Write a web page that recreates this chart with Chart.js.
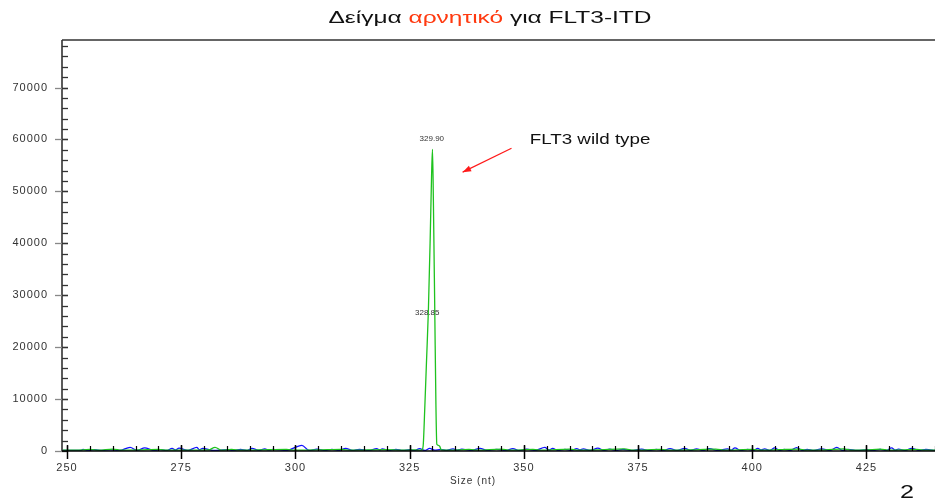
<!DOCTYPE html>
<html>
<head>
<meta charset="utf-8">
<script src="https://cdn.jsdelivr.net/npm/chart.js@4.4.1/dist/chart.umd.min.js"></script>
<style>
  html, body { margin: 0; padding: 0; background: #fff; }
  canvas { display: block; }
</style>
</head>
<body>
<canvas id="trace" width="935" height="501"></canvas>
<script>
const FONT = '"Liberation Sans", Arial, sans-serif';

const xTicks = [250, 275, 300, 325, 350, 375, 400, 425];
const yTicks = [0, 10000, 20000, 30000, 40000, 50000, 60000, 70000];
const xRange = [248.9, 440];
const yRange = [0, 79150];

const titleParts = ['Δείγμα ', 'αρνητικό', ' για FLT3-ITD'];
const titleColors = ['#111111', '#ff3a10', '#111111'];

const peakLabels = ['329.90', '328.85'];
const peakLabelSize = [329.85, 328.85];
const peakLabelHeight = [60100, 26600];

const noteText = 'FLT3 wild type';
const notePos = [351.3, 59100];
const arrowFrom = [347.3, 58300];
const arrowTo = [336.6, 53700];

// green channel (size in nt, height in rfu)
const greenTrace = [
  [249, 150], [252, 150], [255, 300], [257, 150], [260, 350], [262, 150], [266, 200], [270, 300],
  [272, 150], [276, 150], [281, 200], [282.4, 700], [283.8, 150], [286, 300], [288, 150], [292, 200],
  [298, 300], [300, 150], [305, 200], [310, 300], [312, 150], [316, 200], [320, 250], [323, 150],
  [326, 200], [327.5, 150], [327.8, 300], [328.0, 1500], [328.3, 8000], [328.7, 17500], [329.1, 27000],
  [329.5, 41000], [329.8, 53000], [330.0, 58100], [330.2, 48000], [330.5, 27000], [330.75, 9000],
  [330.95, 1300], [331.3, 1100], [331.6, 900], [331.9, 200], [334, 150], [338, 300], [340, 150],
  [345, 350], [347, 150], [352, 300], [354, 150], [360, 350], [362, 150], [366, 200], [372, 400],
  [374, 150], [380, 300], [382, 150], [386, 200], [392, 350], [394, 150], [400, 300], [402, 150],
  [406, 250], [410, 350], [412, 150], [416, 200], [420, 400], [422, 150], [425, 200], [428, 350],
  [430, 150], [433, 200], [436, 300], [438, 150], [440, 150]
];

// blue channel
const blueTrace = [
  [249, 100], [253.0, 100], [253.5, 300], [254.5, 100], [256, 250], [257.5, 100], [259.5, 200], [261.5, 100],
  [263.8, 700], [265.4, 100], [267, 600], [269, 100], [270.5, 250], [271.8, 100], [273, 500], [273.8, 200],
  [274.5, 550], [276.5, 100], [278.4, 700], [279.0, 250], [279.7, 500], [282, 100], [285, 250], [286.5, 100],
  [288, 300], [289.3, 100], [290.5, 500], [292, 100], [293.3, 400], [294.2, 150], [295, 300], [298, 100],
  [301.4, 1100], [303, 100], [304.7, 350], [306.5, 100], [308, 300], [309.5, 100], [311, 500], [312.5, 100],
  [314, 300], [316, 100], [317.8, 450], [318.4, 200], [319, 400], [320.5, 100], [322, 300], [323.5, 100],
  [325, 250], [326, 100], [327.2, 450], [328.3, 100], [329.4, 500], [330.5, 150], [331.8, 300], [333, 100],
  [334.5, 400], [335.5, 150], [336.4, 350], [338.5, 100], [340.4, 500], [342, 100], [344, 300], [346, 100],
  [347.6, 450], [349, 100], [350.6, 350], [352.5, 100], [354.6, 700], [355.5, 200], [356.3, 500], [357.5, 100],
  [359, 300], [360.3, 100], [361.6, 450], [362.3, 200], [363, 400], [364.5, 100], [366.2, 550], [367.5, 100],
  [368.8, 350], [370.2, 100], [371.7, 300], [373.5, 100], [375.8, 350], [377.5, 100], [379, 300], [380.5, 100],
  [382, 450], [383.6, 100], [385.2, 500], [386.5, 100], [387.8, 400], [389.2, 100], [390.6, 450], [392.5, 100],
  [394.6, 400], [395.4, 150], [396.2, 600], [397.5, 100], [399, 300], [400.2, 100], [401.2, 500], [402.0, 200],
  [402.7, 400], [403.8, 100], [404.9, 600], [406, 100], [407, 300], [408.3, 100], [409.7, 650], [411, 100],
  [412, 300], [413.5, 100], [415.2, 400], [417, 100], [418.5, 700], [419.8, 100], [421, 300], [423, 100],
  [425, 250], [426.5, 100], [428, 300], [429.3, 100], [430.5, 600], [431.3, 150], [432, 350], [433.5, 100],
  [434.9, 500], [436.5, 100], [438, 300], [440, 100]
];

const toPoints = arr => arr.map(p => ({ x: p[0], y: p[1] }));

// text drawn a little stretched sideways, like the scanned original
function wideText(ctx, text, x, y, sx) {
  ctx.save();
  ctx.translate(x, y);
  ctx.scale(sx, 1);
  ctx.fillText(text, 0, 0);
  ctx.restore();
}

const decor = {
  id: 'decor',
  beforeDraw(chart) {
    chart.ctx.letterSpacing = '1px';
  },
  afterDraw(chart) {
    const { ctx, chartArea: a, scales: { x, y } } = chart;
    ctx.save();
    ctx.letterSpacing = '0px';

    // frame: top border and left axis
    ctx.strokeStyle = '#333';
    ctx.lineWidth = 1.6;
    ctx.beginPath();
    ctx.moveTo(a.left, a.top); ctx.lineTo(a.right, a.top);
    ctx.moveTo(a.left, a.top); ctx.lineTo(a.left, a.bottom);
    ctx.stroke();

    // y ticks
    ctx.lineWidth = 1.3;
    for (let v = 2000; v <= 78000; v += 2000) {
      const py = Math.round(y.getPixelForValue(v)) + 0.5;
      ctx.strokeStyle = '#333';
      ctx.beginPath(); ctx.moveTo(a.left, py); ctx.lineTo(a.left + 6, py); ctx.stroke();
    }
    yTicks.forEach(v => {
      const py = Math.round(y.getPixelForValue(v)) + 0.5;
      ctx.strokeStyle = '#888';
      ctx.beginPath(); ctx.moveTo(a.left - 7, py); ctx.lineTo(a.left, py); ctx.stroke();
      ctx.strokeStyle = '#333';
      ctx.beginPath(); ctx.moveTo(a.left, py); ctx.lineTo(a.left + 6, py); ctx.stroke();
    });

    // x axis line and ticks
    ctx.strokeStyle = '#000';
    ctx.lineWidth = 1.5;
    ctx.beginPath(); ctx.moveTo(a.left, a.bottom); ctx.lineTo(a.right, a.bottom); ctx.stroke();
    ctx.lineWidth = 1.2;
    for (let v = 250; v <= 440; v += 5) {
      const px = Math.round(x.getPixelForValue(v)) + 0.5;
      ctx.beginPath(); ctx.moveTo(px, a.bottom - 5); ctx.lineTo(px, a.bottom); ctx.stroke();
    }
    ctx.lineWidth = 1.5;
    xTicks.forEach(v => {
      const px = Math.round(x.getPixelForValue(v)) + 0.5;
      ctx.beginPath(); ctx.moveTo(px, a.bottom - 6); ctx.lineTo(px, a.bottom + 8); ctx.stroke();
    });

    // title, stretched to the original width
    ctx.font = `16px ${FONT}`;
    ctx.textBaseline = 'alphabetic';
    ctx.textAlign = 'left';
    const widths = titleParts.map(t => ctx.measureText(t).width);
    const total = widths.reduce((s, w) => s + w, 0);
    const sx = 323 / total;
    let tx = 490 - 323 / 2;
    titleParts.forEach((t, i) => {
      ctx.fillStyle = titleColors[i];
      wideText(ctx, t, tx, 23, sx);
      tx += widths[i] * sx;
    });

    // peak labels
    ctx.font = `8px ${FONT}`;
    ctx.fillStyle = '#333';
    ctx.textAlign = 'center';
    ctx.textBaseline = 'middle';
    peakLabels.forEach((t, i) => {
      ctx.fillText(t, x.getPixelForValue(peakLabelSize[i]), y.getPixelForValue(peakLabelHeight[i]));
    });

    // annotation
    ctx.font = `15px ${FONT}`;
    ctx.fillStyle = '#111';
    ctx.textAlign = 'left';
    ctx.textBaseline = 'alphabetic';
    wideText(ctx, noteText, x.getPixelForValue(notePos[0]), y.getPixelForValue(notePos[1]), 1.25);

    const x1 = x.getPixelForValue(arrowFrom[0]), y1 = y.getPixelForValue(arrowFrom[1]);
    const x2 = x.getPixelForValue(arrowTo[0]), y2 = y.getPixelForValue(arrowTo[1]);
    ctx.strokeStyle = '#ff1a1a';
    ctx.fillStyle = '#ff1a1a';
    ctx.lineWidth = 1.2;
    ctx.beginPath(); ctx.moveTo(x1, y1); ctx.lineTo(x2, y2); ctx.stroke();
    const ang = Math.atan2(y2 - y1, x2 - x1);
    ctx.beginPath();
    ctx.moveTo(x2, y2);
    ctx.lineTo(x2 - 9 * Math.cos(ang - 0.35), y2 - 9 * Math.sin(ang - 0.35));
    ctx.lineTo(x2 - 9 * Math.cos(ang + 0.35), y2 - 9 * Math.sin(ang + 0.35));
    ctx.closePath();
    ctx.fill();

    // axis title
    ctx.font = `10px ${FONT}`;
    ctx.letterSpacing = '1px';
    ctx.fillStyle = '#333';
    ctx.textAlign = 'center';
    ctx.textBaseline = 'middle';
    ctx.fillText('Size (nt)', 473, 481);

    // page number
    ctx.letterSpacing = '0px';
    ctx.font = `18px ${FONT}`;
    ctx.fillStyle = '#111';
    ctx.textBaseline = 'alphabetic';
    wideText(ctx, '2', 907, 498, 1.4);

    ctx.restore();
  }
};

new Chart(document.getElementById('trace'), {
  type: 'line',
  data: {
    datasets: [
      {
        label: 'green',
        data: toPoints(greenTrace),
        borderColor: '#1ec21e',
        borderWidth: 1.3,
        pointRadius: 0,
        cubicInterpolationMode: 'monotone',
        fill: false
      },
      {
        label: 'blue',
        data: toPoints(blueTrace),
        borderColor: '#1010ff',
        borderWidth: 1.3,
        pointRadius: 0,
        cubicInterpolationMode: 'monotone',
        fill: false
      }
    ]
  },
  options: {
    responsive: false,
    animation: false,
    devicePixelRatio: 1,
    layout: { padding: { top: 40, right: 0, left: 0, bottom: 0 } },
    plugins: {
      legend: { display: false },
      tooltip: { enabled: false },
      title: { display: false }
    },
    scales: {
      x: {
        type: 'linear',
        min: xRange[0],
        max: xRange[1],
        grid: { display: false, drawTicks: false },
        border: { display: false },
        afterBuildTicks: s => { s.ticks = xTicks.map(v => ({ value: v })); },
        afterFit: s => { s.height = 50; },
        ticks: {
          padding: 10,
          maxRotation: 0,
          autoSkip: false,
          color: '#333',
          font: { family: FONT, size: 11 },
          callback: v => String(v)
        }
      },
      y: {
        min: yRange[0],
        max: yRange[1],
        grid: { display: false, drawTicks: false },
        border: { display: false },
        afterBuildTicks: s => { s.ticks = yTicks.map(v => ({ value: v })); },
        afterFit: s => { s.width = 62; },
        ticks: {
          padding: 14,
          autoSkip: false,
          color: '#333',
          font: { family: FONT, size: 11 },
          callback: v => String(v)
        }
      }
    }
  },
  plugins: [decor]
});
</script>
</body>
</html>
